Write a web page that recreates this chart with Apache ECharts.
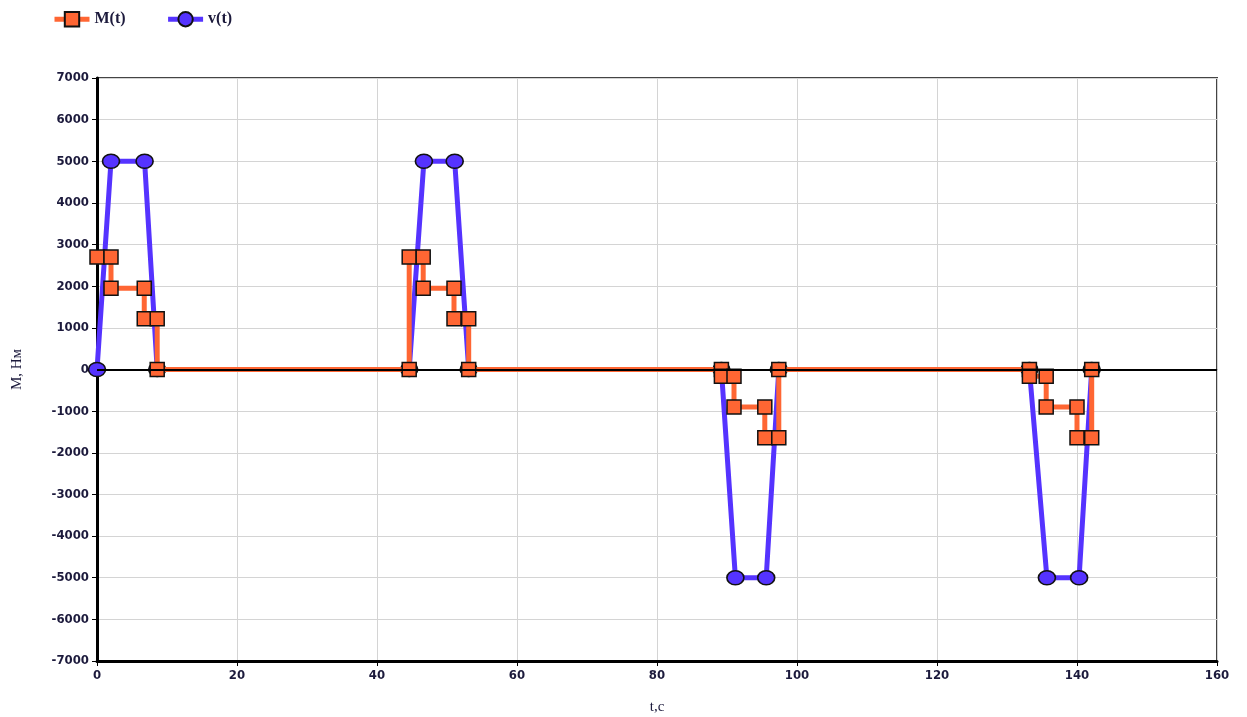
<!DOCTYPE html>
<html>
<head>
<meta charset="utf-8">
<script src="https://cdn.jsdelivr.net/npm/echarts@6/dist/echarts.min.js"></script>
<style>
  html, body { margin: 0; padding: 0; background: #fff; }
  #chart { width: 1247px; height: 717px; }
</style>
</head>
<body>
<div id="chart"></div>
<script>
// Torque M(t), stepped profile (time in s, torque in N·m)
const mTime  = [0, 2, 2, 6.75, 6.75, 8.6, 8.6,
                44.6, 44.6, 46.6, 46.6, 51, 51, 53.1, 53.1,
                89.2, 89.2, 91, 91, 95.4, 95.4, 97.4, 97.4,
                133.2, 133.2, 135.6, 135.6, 140, 140, 142.1, 142.1];
const mValue = [2700, 2700, 1950, 1950, 1220, 1220, 0,
                0, 2700, 2700, 1950, 1950, 1220, 1220, 0,
                0, -160, -160, -900, -900, -1640, -1640, 0,
                0, -160, -160, -900, -900, -1640, -1640, 0];

// Speed v(t), trapezoidal profile
const vTime  = [0, 2, 6.8, 8.6, 44.6, 46.7, 51.1, 53.1, 89.2, 91.2, 95.6, 97.4, 133.2, 135.7, 140.3, 142.1];
const vValue = [0, 5000, 5000, 0, 0, 5000, 5000, 0, 0, -5000, -5000, 0, 0, -5000, -5000, 0];

// Axis ticks
const xTicks = { min: 0, max: 160, step: 20 };
const yTicks = { min: -7000, max: 7000, step: 1000 };

const textColor = '#1c1a3c';
const zip = (xs, ys) => xs.map((x, i) => [x, ys[i]]);

const chart = echarts.init(document.getElementById('chart'), null, { renderer: 'canvas' });
chart.setOption({
  animation: false,
  backgroundColor: '#fff',
  legend: {
    left: 47, top: 6,
    itemWidth: 35, itemHeight: 18, itemGap: 40,
    data: ['M(t)', 'v(t)'],
    lineStyle: { width: 5 },
    textStyle: { fontFamily: 'Liberation Serif', fontSize: 16, fontWeight: 'bold', color: textColor }
  },
  grid: {
    left: 97, right: 30, top: 78, bottom: 56,
    outerBoundsMode: 'none', containLabel: false,
    show: true, borderColor: '#444', borderWidth: 2, backgroundColor: '#fff'
  },
  xAxis: {
    type: 'value',
    min: xTicks.min, max: xTicks.max, interval: xTicks.step,
    name: 't,с', nameLocation: 'middle', nameGap: 39,
    nameTextStyle: { fontFamily: 'Liberation Serif', fontSize: 15, color: textColor },
    axisLine: { onZero: false, lineStyle: { color: '#000', width: 3 } },
    axisTick: { show: true, length: 5, lineStyle: { color: '#000', width: 1 } },
    axisLabel: { fontFamily: 'DejaVu Sans Condensed', fontSize: 13, fontWeight: 'bold', color: textColor, margin: 8 },
    splitLine: { show: true, lineStyle: { color: '#d4d4d4', width: 1 } }
  },
  yAxis: {
    type: 'value',
    min: yTicks.min, max: yTicks.max, interval: yTicks.step,
    name: 'М, Нм', nameLocation: 'middle', nameGap: 72, nameRotate: 90,
    nameTextStyle: { fontFamily: 'Liberation Serif', fontSize: 15, color: textColor },
    axisLine: { onZero: false, lineStyle: { color: '#000', width: 3 } },
    axisTick: { show: true, length: 5, lineStyle: { color: '#000', width: 1 } },
    axisLabel: {
      fontFamily: 'DejaVu Sans Condensed', fontSize: 13, fontWeight: 'bold', color: textColor, margin: 8,
      formatter: v => String(v)
    },
    splitLine: { show: true, lineStyle: { color: '#d4d4d4', width: 1 } }
  },
  series: [
    {
      name: 'v(t)', type: 'line', z: 2,
      data: zip(vTime, vValue),
      symbol: 'circle', symbolSize: [17, 14], showAllSymbol: true,
      lineStyle: { color: '#5533ff', width: 5 },
      itemStyle: { color: '#5533ff', borderColor: '#111', borderWidth: 1.5 }
    },
    {
      name: 'M(t)', type: 'line', z: 3,
      data: zip(mTime, mValue),
      symbol: 'rect', symbolSize: 14, showAllSymbol: true,
      lineStyle: { color: '#ff6633', width: 5 },
      itemStyle: { color: '#ff6633', borderColor: '#111', borderWidth: 1.5 },
      markLine: {
        silent: true, symbol: 'none', label: { show: false },
        lineStyle: { color: '#000', width: 2, type: 'solid' },
        data: [{ yAxis: 0 }]
      }
    }
  ]
});
</script>
</body>
</html>
